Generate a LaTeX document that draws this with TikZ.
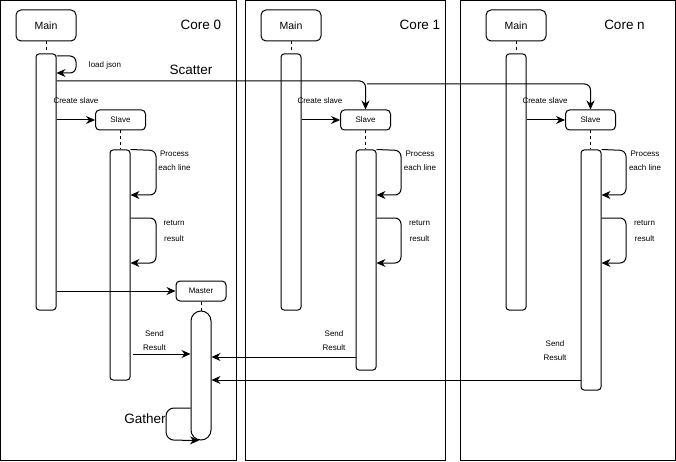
\documentclass[tikz,border=0pt]{standalone}
\usepackage{fontspec}
\setmainfont{Liberation Sans}
\usetikzlibrary{arrows.meta}
\begin{document}
\begin{tikzpicture}[x=1pt,y=-1pt,line width=1pt,
  mainbox/.style={draw, rounded corners=5pt, minimum width=60pt, minimum height=31pt, inner sep=0pt, font=\fontsize{10.5}{12}\selectfont},
  sbox/.style={draw, rounded corners=4pt, minimum width=50pt, minimum height=20pt, inner sep=0pt, font=\fontsize{8}{9}\selectfont},
  bar/.style={draw, rounded corners=3pt, minimum width=20pt, inner sep=0pt},
  lbl/.style={inner sep=0pt, font=\fontsize{8}{14}\selectfont, align=center},
  big/.style={inner sep=0pt, font=\fontsize{13.5}{15}\selectfont},
  arr/.style={-{Stealth[length=9pt,width=8pt]}, rounded corners=6pt},
  dashline/.style={dashed, dash pattern=on 3pt off 3pt}
]
\useasboundingbox (0,0) rectangle (676,462);
% frames
\draw (0.5,0.5) rectangle (236,460);
\draw (245,0.5) rectangle (445,460);
\draw (460,0.5) rectangle (675,460);

% titles
\node[big] (c0) at (201,25) {Core 0};
\node[big] (c1) at (420,25) {Core 1};
\node[big] (cn) at (624.5,25) {Core n};

% main boxes and bars
\node[mainbox] (m0) at (46,25.5) {Main};
\node[mainbox] (m1) at (291,25.5) {Main};
\node[mainbox] (mn) at (516,25.5) {Main};
\node[bar, minimum height=256pt] (mb0) at (46,182) {};
\node[bar, minimum height=256pt] (mb1) at (291,182) {};
\node[bar, minimum height=256pt] (mbn) at (516,182) {};
\draw[dashline] (m0.south) -- (mb0.north);
\draw[dashline] (m1.south) -- (mb1.north);
\draw[dashline] (mn.south) -- (mbn.north);

% slave boxes and bars
\node[sbox] (s0) at (120.5,120) {Slave};
\node[sbox] (s1) at (365.5,120) {Slave};
\node[sbox] (sn) at (590.5,120) {Slave};
\node[bar, minimum height=230pt] (sb0) at (120,265) {};
\node[bar, minimum height=220pt] (sb1) at (366,260) {};
\node[bar, minimum height=240pt] (sbn) at (591,270) {};
\draw[dashline] (s0.south) -- (s0.south |- sb0.north);
\draw[dashline] (s1.south) -- (s1.south |- sb1.north);
\draw[dashline] (sn.south) -- (sn.south |- sbn.north);

% master
\node[sbox] (ms) at (201,291) {Master};
\node[bar, rounded corners=10pt, minimum height=129pt] (mbar) at (201,375.5) {};
\draw[dashline] (ms.south) -- (mbar.north);

% load json
\draw[arr] (mb0.east |- 0,56) -- (76,56) -- (76,73) -- (mb0.east |- 0,73);
\node[lbl] (lj) at (105,65) {load json};

% scatter
\draw[arr] (mb0.east |- 0,81) -| (s1.north);
\coordinate (sc) at (367,84);
\draw[arr] (sc) -| (sn.north);
\node[big] (scl) at (191,70) {Scatter};

% create slave
\draw[arr] (mb0.east |- s0.west) -- (s0.west);
\draw[arr] (mb1.east |- s1.west) -- (s1.west);
\draw[arr] (mbn.east |- sn.west) -- (sn.west);
\node[lbl] (cs0) at (76,101) {Create slave};
\node[lbl] (cs1) at (320,101) {Create slave};
\node[lbl] (csn) at (545,101) {Create slave};

% process loops
\draw[arr] (sb0.north east) -- (156,150.5) -- (156,195) -- (sb0.east |- 0,195);
\draw[arr] (sb1.north east) -- (401,150.5) -- (401,195) -- (sb1.east |- 0,195);
\draw[arr] (sbn.north east) -- (626,150.5) -- (626,195) -- (sbn.east |- 0,195);
\node[lbl] (p0) at (174.5,161) {Process\\each line};
\node[lbl] (p1) at (420,161) {Process\\each line};
\node[lbl] (pn) at (645,161) {Process\\each line};

% return loops
\draw[arr] (sb0.east |- 0,218) -- (156,218) -- (156,263) -- (sb0.east |- 0,263);
\draw[arr] (sb1.east |- 0,218) -- (401,218) -- (401,263) -- (sb1.east |- 0,263);
\draw[arr] (sbn.east |- 0,218) -- (626,218) -- (626,263) -- (sbn.east |- 0,263);
\node[lbl, font=\fontsize{8}{15.7}\selectfont] (r0) at (174,231) {return\\result};
\node[lbl, font=\fontsize{8}{15.7}\selectfont] (r1) at (419.5,231) {return\\result};
\node[lbl, font=\fontsize{8}{15.7}\selectfont] (rn) at (644.5,231) {return\\result};

% main to master
\draw[arr] (mb0.east |- ms.west) -- (ms.west);

% send results
\draw[arr] ([xshift=2pt]sb0.east |- 0,354) -- (mbar.west |- 0,354);
\draw[arr] (sb1.west |- 0,357) -- (mbar.east |- 0,357);
\draw[arr] (sbn.west |- 0,380) -- (mbar.east |- 0,380);
\node[lbl] (sr0) at (154.5,341) {Send\\Result};
\node[lbl] (sr1) at (334,341) {Send\\Result};
\node[lbl] (srn) at (555,351) {Send\\Result};

% gather
\draw[arr, rounded corners=8pt] (mbar.west |- 0,408) -- (166,408) -- (166,440) -- ([xshift=-2pt]mbar.south);
\node[big] (ga) at (145,419) {Gather};
\end{tikzpicture}
\end{document}
